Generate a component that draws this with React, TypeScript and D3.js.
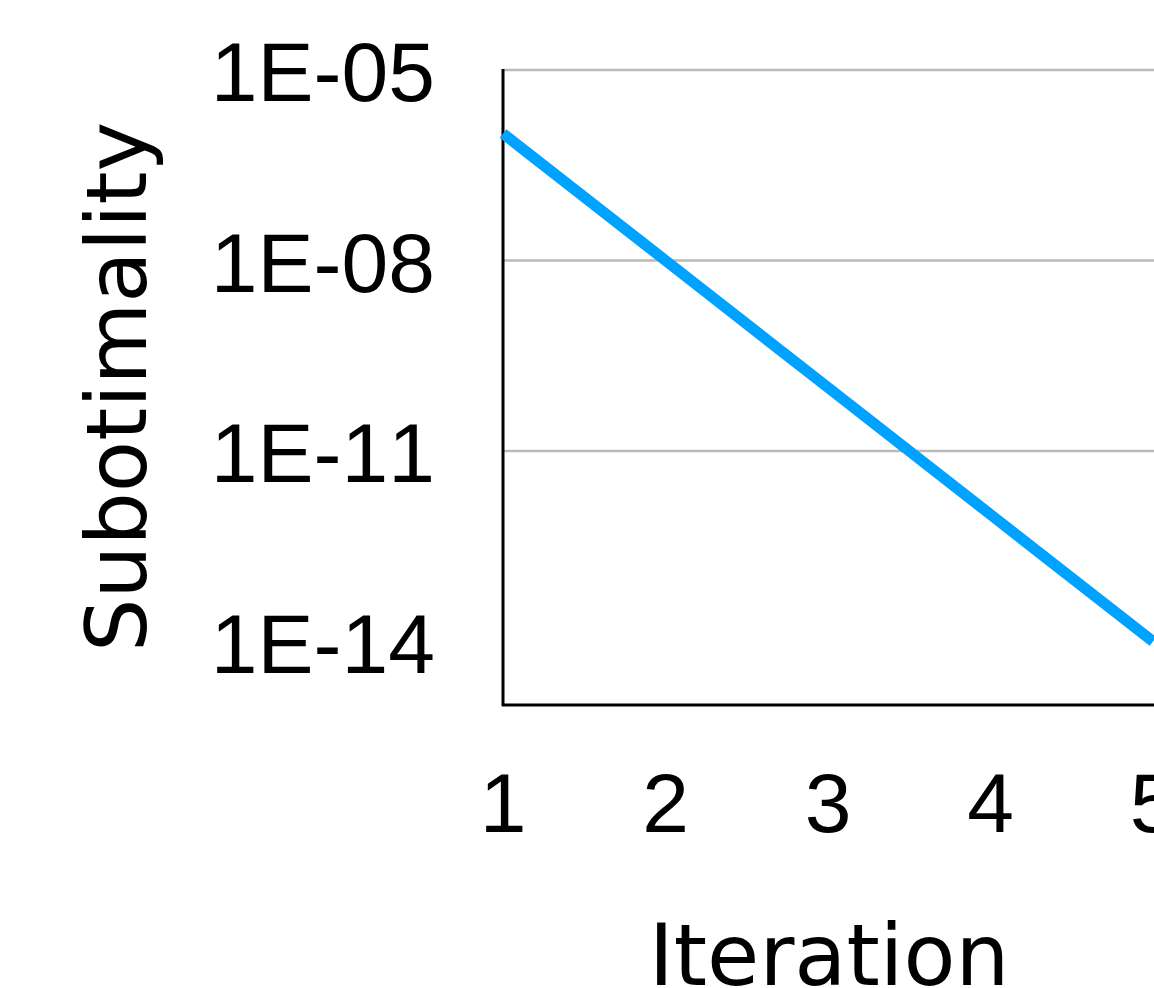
import React, { useEffect, useRef } from 'react';
import * as d3 from 'd3';

const iterations = [1, 2, 3, 4, 5];
const subotimality = [1e-6, 1e-8, 1e-10, 1e-12, 1e-14];
const yTicks = [1e-5, 1e-8, 1e-11, 1e-14];
const yTickLabels = ['1E-05', '1E-08', '1E-11', '1E-14'];
const gridTicks = [1e-5, 1e-8, 1e-11];

function App() {
    const chartRef = useRef<SVGSVGElement>(null);

    useEffect(() => {
        const svg = d3.select(chartRef.current);
        svg.selectAll('*').remove();

        const x = d3.scaleLinear().domain([1, 5]).range([503, 1153]);
        const y = d3.scaleLog().domain([1e-15, 1e-5]).range([705, 70]);

        // grid lines
        svg.append('g')
            .selectAll('line')
            .data(gridTicks)
            .enter()
            .append('line')
            .attr('x1', 503)
            .attr('x2', 1200)
            .attr('y1', (d) => y(d))
            .attr('y2', (d) => y(d))
            .attr('stroke', '#bbbbbb')
            .attr('stroke-width', 2.5);

        // axes
        svg.append('line')
            .attr('x1', 503).attr('x2', 503)
            .attr('y1', y(1e-5) - 1).attr('y2', 706)
            .attr('stroke', '#000').attr('stroke-width', 3);
        svg.append('line')
            .attr('x1', 502).attr('x2', 1200)
            .attr('y1', 705).attr('y2', 705)
            .attr('stroke', '#000').attr('stroke-width', 3);

        const tickFont = '"Liberation Sans", Arial, sans-serif';

        // y tick labels
        svg.append('g')
            .selectAll('text')
            .data(yTicks)
            .enter()
            .append('text')
            .attr('x', 435)
            .attr('y', (d) => y(d) + 31)
            .attr('text-anchor', 'end')
            .attr('font-family', tickFont)
            .attr('font-size', 84)
            .style('font-kerning', 'none')
            .text((d, i) => yTickLabels[i]);

        // x tick labels
        svg.append('g')
            .selectAll('text')
            .data(iterations)
            .enter()
            .append('text')
            .attr('x', (d) => x(d))
            .attr('y', 832)
            .attr('text-anchor', 'middle')
            .attr('font-family', tickFont)
            .attr('font-size', 84)
            .text((d) => d);

        // series
        const line = d3.line<number>()
            .x((d, i) => x(iterations[i]))
            .y((d) => y(d));

        svg.append('path')
            .datum(subotimality)
            .attr('d', line)
            .attr('fill', 'none')
            .attr('stroke', '#00a2ff')
            .attr('stroke-width', 11);

        // axis titles
        svg.append('text')
            .attr('x', 829)
            .attr('y', 985)
            .attr('text-anchor', 'middle')
            .attr('font-family', '"DejaVu Sans", Verdana, sans-serif')
            .attr('font-size', 85)
            .text('Iteration');

        svg.append('text')
            .attr('transform', 'translate(146,387) rotate(-90)')
            .attr('text-anchor', 'middle')
            .attr('font-family', '"DejaVu Sans", Verdana, sans-serif')
            .attr('font-size', 84)
            .text('Subotimality');
    }, []);

    return (
        <svg
            ref={chartRef}
            width={1154}
            height={988}
            style={{ position: 'fixed', left: 0, top: 0, background: '#fff', display: 'block' }}
        />
    );
}

export default App;
